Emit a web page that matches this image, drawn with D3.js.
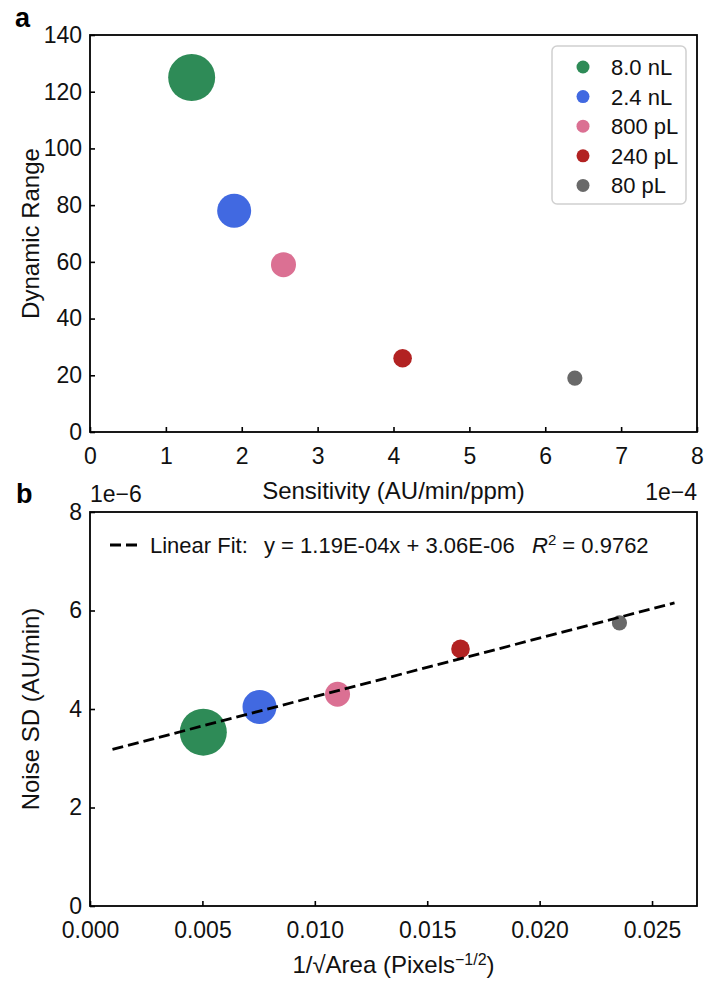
<!DOCTYPE html>
<html>
<head>
<meta charset="utf-8">
<script src="https://cdn.jsdelivr.net/npm/d3@7"></script>
<style>
  body { margin: 0; background: #fff; }
  svg { display: block; font-family: "Liberation Sans", Arial, Helvetica, sans-serif; }
</style>
</head>
<body>
<svg id="chart" width="704" height="981"></svg>
<script>
// ==========================================
// DATA
// ==========================================
const volumes = ['8.0 nL', '2.4 nL', '800 pL', '240 pL', '80 pL'];

// panel a
const sensitivity  = [1.34e-4, 1.90e-4, 2.55e-4, 4.12e-4, 6.39e-4];
const dynamicRange = [125, 78, 59, 26, 19];

// panel b
const invSqrtArea = [0.00504, 0.00754, 0.01101, 0.01648, 0.02355];
const noiseSD     = [3.53e-6, 4.04e-6, 4.30e-6, 5.22e-6, 5.75e-6];

// linear fit reported on panel b
const fitSlope = 1.19e-4;
const fitIntercept = 3.06e-6;
const fitR2 = 0.9762;
const fitXRange = [0.001, 0.026];

// tick values
const ticksAX = [0, 1e-4, 2e-4, 3e-4, 4e-4, 5e-4, 6e-4, 7e-4, 8e-4];
const ticksAY = [0, 20, 40, 60, 80, 100, 120, 140];
const ticksBX = [0, 0.005, 0.010, 0.015, 0.020, 0.025];
const ticksBY = [0, 2e-6, 4e-6, 6e-6, 8e-6];

// ==========================================
// STYLE
// ==========================================
const colors = ['#2e8b57', '#4169e1', '#db7093', '#b22222', '#696969'];
const markerR = [23.5, 17, 12.5, 9.3, 7.6];   // marker radius per volume
const TICK_FS = 23;   // tick labels
const LABEL_FS = 24;  // axis titles
const TEXT_FS = 22;   // legend / annotation

const svg = d3.select('#chart');
const color = d3.scaleOrdinal().domain(volumes).range(colors);
const radius = d3.scaleOrdinal().domain(volumes).range(markerR);

const left = 90, right = 697;

function frame(g, w, h) {
  g.append('rect')
    .attr('x', 0).attr('y', 0).attr('width', w).attr('height', h)
    .attr('fill', 'none').attr('stroke', '#000').attr('stroke-width', 1.8);
}

function styleAxis(sel) {
  sel.select('.domain').remove();
  sel.selectAll('.tick line').attr('stroke', '#000').attr('stroke-width', 1.6);
  sel.selectAll('.tick text').attr('font-size', TICK_FS).attr('fill', '#111')
    .attr('font-family', '"Liberation Sans", Arial, sans-serif');
}

// ==========================================
// PANEL A
// ==========================================
const aTop = 35, aBottom = 432;
const ga = svg.append('g').attr('transform', `translate(${left},${aTop})`);
const wA = right - left, hA = aBottom - aTop;

const xA = d3.scaleLinear().domain([0, 8e-4]).range([0, wA]);
const yA = d3.scaleLinear().domain([0, 140]).range([hA, 0]);

ga.append('g').attr('transform', `translate(0,${hA})`)
  .call(d3.axisBottom(xA).tickValues(ticksAX).tickSizeInner(-5).tickSizeOuter(0).tickPadding(16)
    .tickFormat(d => Math.round(d * 1e4)))
  .call(styleAxis);

ga.append('g')
  .call(d3.axisLeft(yA).tickValues(ticksAY).tickSizeInner(-5).tickSizeOuter(0).tickPadding(8))
  .call(styleAxis);

ga.selectAll('circle.pt')
  .data(volumes)
  .join('circle')
  .attr('class', 'pt')
  .attr('cx', (d, i) => xA(sensitivity[i]))
  .attr('cy', (d, i) => yA(dynamicRange[i]))
  .attr('r', d => radius(d))
  .attr('fill', d => color(d));

frame(ga, wA, hA);

// legend
const legend = ga.append('g').attr('transform', `translate(${552 - left},${46 - aTop})`);
legend.append('rect')
  .attr('width', 134).attr('height', 158).attr('rx', 5)
  .attr('fill', '#fff').attr('stroke', '#d0d0d0').attr('stroke-width', 1.5);
const rows = legend.selectAll('g.row').data(volumes).join('g')
  .attr('class', 'row')
  .attr('transform', (d, i) => `translate(0,${21 + i * 29.6})`);
rows.append('circle').attr('cx', 31).attr('r', 6.5).attr('fill', d => color(d));
rows.append('text').attr('x', 59).attr('dy', '0.36em')
  .attr('font-size', TEXT_FS).attr('fill', '#111').text(d => d);

// axis labels
svg.append('text')
  .attr('x', (left + right) / 2).attr('y', 499)
  .attr('text-anchor', 'middle').attr('font-size', LABEL_FS).attr('fill', '#111')
  .text('Sensitivity (AU/min/ppm)');
svg.append('text')
  .attr('x', right).attr('y', 500)
  .attr('text-anchor', 'end').attr('font-size', TICK_FS).attr('fill', '#111')
  .text('1e\u22124');
svg.append('text')
  .attr('transform', `translate(39,${(aTop + aBottom) / 2}) rotate(-90)`)
  .attr('text-anchor', 'middle').attr('font-size', LABEL_FS).attr('fill', '#111')
  .text('Dynamic Range');
svg.append('text')
  .attr('x', 15).attr('y', 27)
  .attr('font-size', 27).attr('font-weight', 'bold')
  .text('a');

// ==========================================
// PANEL B
// ==========================================
const bTop = 512, bBottom = 906;
const gb = svg.append('g').attr('transform', `translate(${left},${bTop})`);
const wB = right - left, hB = bBottom - bTop;

const xB = d3.scaleLinear().domain([0, 0.027]).range([0, wB]);
const yB = d3.scaleLinear().domain([0, 8e-6]).range([hB, 0]);

gb.append('g').attr('transform', `translate(0,${hB})`)
  .call(d3.axisBottom(xB).tickValues(ticksBX).tickSizeInner(-5).tickSizeOuter(0).tickPadding(16)
    .tickFormat(d3.format('.3f')))
  .call(styleAxis);

gb.append('g')
  .call(d3.axisLeft(yB).tickValues(ticksBY).tickSizeInner(-5).tickSizeOuter(0).tickPadding(8)
    .tickFormat(d => Math.round(d * 1e6)))
  .call(styleAxis);

gb.selectAll('circle.pt')
  .data(volumes)
  .join('circle')
  .attr('class', 'pt')
  .attr('cx', (d, i) => xB(invSqrtArea[i]))
  .attr('cy', (d, i) => yB(noiseSD[i]))
  .attr('r', d => radius(d))
  .attr('fill', d => color(d));

// fit line drawn above the markers
const fitLine = d3.line().x(d => xB(d)).y(d => yB(fitSlope * d + fitIntercept));
gb.append('path')
  .datum(fitXRange)
  .attr('d', fitLine)
  .attr('fill', 'none').attr('stroke', '#000')
  .attr('stroke-width', 2.8).attr('stroke-dasharray', '11,5');

frame(gb, wB, hB);

// fit annotation
const ann = gb.append('g').attr('transform', `translate(0,${545 - bTop})`);
ann.append('line')
  .attr('x1', 110 - left).attr('x2', 140 - left)
  .attr('stroke', '#000').attr('stroke-width', 2.8).attr('stroke-dasharray', '11,5');
ann.append('text').attr('x', 150 - left).attr('dy', '0.36em')
  .attr('font-size', TEXT_FS).attr('fill', '#111')
  .text('Linear Fit:');
const fmtE = v => v.toExponential(2).toUpperCase().replace(/E([+-])(\d)$/, 'E$10$2');
ann.append('text').attr('x', 264 - left).attr('dy', '0.36em')
  .attr('font-size', TEXT_FS).attr('fill', '#111')
  .text(`y = ${fmtE(fitSlope)}x + ${fmtE(fitIntercept)}`);
const r2 = ann.append('text').attr('x', 532 - left).attr('dy', '0.36em')
  .attr('font-size', TEXT_FS).attr('fill', '#111');
r2.append('tspan').attr('font-style', 'italic').text('R');
r2.append('tspan').attr('baseline-shift', 'super').attr('font-size', 15).text('2');
r2.append('tspan').text(` = ${fitR2}`);

// axis labels
const xlb = svg.append('text')
  .attr('x', (left + right) / 2).attr('y', 973)
  .attr('text-anchor', 'middle').attr('font-size', LABEL_FS).attr('fill', '#111');
xlb.append('tspan').text('1/\u221AArea (Pixels');
xlb.append('tspan').attr('baseline-shift', 'super').attr('font-size', 16).text('\u22121/2');
xlb.append('tspan').attr('baseline-shift', 'baseline').text(')');

svg.append('text')
  .attr('x', left).attr('y', 502)
  .attr('font-size', TICK_FS).attr('fill', '#111')
  .text('1e\u22126');
svg.append('text')
  .attr('transform', `translate(39,${(bTop + bBottom) / 2}) rotate(-90)`)
  .attr('text-anchor', 'middle').attr('font-size', LABEL_FS).attr('fill', '#111')
  .text('Noise SD (AU/min)');
svg.append('text')
  .attr('x', 16).attr('y', 503)
  .attr('font-size', 27).attr('font-weight', 'bold')
  .text('b');
</script>
</body>
</html>
